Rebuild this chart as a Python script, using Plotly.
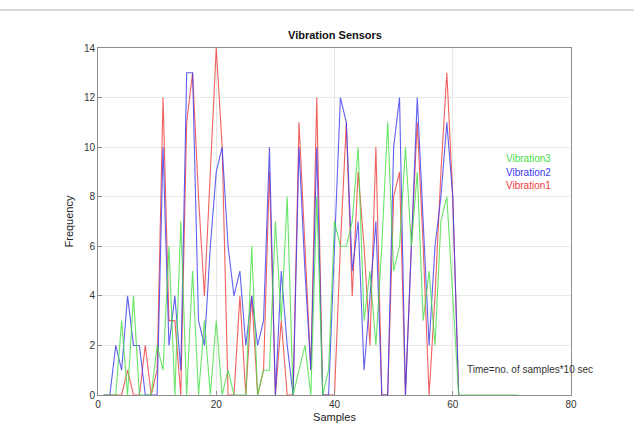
import plotly.graph_objects as go

samples_rb = list(range(1, 62))
samples_g = list(range(1, 72))

vibration1 = [0, 0, 0, 0, 1, 0, 0, 2, 0, 1,
              12, 3, 3, 0, 11, 13, 8, 4, 9, 14,
              10, 0, 0, 4, 0, 4, 0, 1, 9, 0,
              3, 0, 0, 11, 6, 1, 12, 0, 0, 0,
              6, 11, 4, 9, 6, 2, 10, 0, 0, 8,
              9, 0, 6, 11, 6, 0, 4, 9, 13, 8,
              0]
vibration2 = [0, 0, 2, 1, 4, 2, 2, 0, 0, 0,
              10, 2, 4, 1, 13, 13, 3, 2, 6, 9,
              10, 6, 4, 5, 2, 4, 2, 3, 10, 0,
              5, 2, 0, 10, 5, 1, 10, 0, 0, 6,
              12, 11, 5, 7, 1, 4, 7, 0, 0, 10,
              12, 0, 6, 12, 7, 2, 6, 8, 11, 8,
              0]
vibration3 = [0, 0, 0, 3, 0, 4, 0, 0, 0, 2,
              1, 6, 0, 7, 0, 5, 0, 3, 0, 3,
              0, 1, 0, 0, 0, 6, 0, 1, 1, 7,
              3, 8, 0, 1, 2, 0, 8, 0, 1, 7,
              6, 6, 7, 10, 3, 5, 2, 6, 11, 5,
              6, 10, 6, 9, 3, 5, 2, 7, 8, 4,
              0, 0, 0, 0, 0, 0, 0, 0, 0, 0, 0]

x_ticks = [0, 20, 40, 60, 80]
y_ticks = [0, 2, 4, 6, 8, 10, 12, 14]

RED = "#f03a3a"
BLUE = "#3a3af0"
GREEN = "#45e045"
FONT = "Liberation Sans, Arial, sans-serif"

fig = go.Figure()
fig.add_trace(go.Scatter(x=samples_rb, y=vibration1, mode="lines", name="Vibration1",
                         line=dict(color=RED, width=1.1), opacity=0.8))
fig.add_trace(go.Scatter(x=samples_rb, y=vibration2, mode="lines", name="Vibration2",
                         line=dict(color=BLUE, width=1.1), opacity=0.8))
fig.add_trace(go.Scatter(x=samples_g, y=vibration3, mode="lines", name="Vibration3",
                         line=dict(color=GREEN, width=1.1), opacity=0.8))

L, R, T, B = 98, 63, 48, 53
W, H = 634, 448
pw, ph = W - L - R, H - T - B

axis_common = dict(showgrid=True, gridcolor="#e8e8e8", gridwidth=1,
                   showline=True, linecolor="#8c8c8c", linewidth=1, mirror=True,
                   ticks="inside", ticklen=4, tickcolor="#8c8c8c",
                   zeroline=False, tickfont=dict(size=10, color="#333333", family=FONT))

fig.update_layout(
    width=W, height=H,
    margin=dict(l=L, r=R, t=T, b=B),
    paper_bgcolor="white", plot_bgcolor="white",
    showlegend=False,
    font=dict(family=FONT, color="#222222"),
    title=dict(text="<b>Vibration Sensors</b>", x=(335) / W, xanchor="center",
               y=1 - 35 / H, yanchor="middle", font=dict(size=11, color="#111111", family=FONT)),
    xaxis=dict(range=[0, 80], tickvals=x_ticks, title=dict(text="Samples", standoff=4,
               font=dict(size=11, color="#222222", family=FONT)), **axis_common),
    yaxis=dict(range=[0, 14], tickvals=y_ticks, title=dict(text="Frequency", standoff=8,
               font=dict(size=11, color="#222222", family=FONT)), **axis_common),
)

legend_items = [("Vibration3", GREEN, 158), ("Vibration2", BLUE, 172), ("Vibration1", RED, 185)]
for text, color, ypx in legend_items:
    fig.add_annotation(x=(528 - L) / pw, y=(H - B - ypx) / ph, xref="paper", yref="paper",
                       text=text, showarrow=False, xanchor="center", yanchor="middle",
                       font=dict(size=10, color=color, family=FONT))

fig.add_annotation(x=(465 - L) / pw, y=(H - B - 369) / ph, xref="paper", yref="paper",
                   text="Time=no. of samples*10 sec", showarrow=False,
                   xanchor="left", yanchor="middle",
                   font=dict(size=10, color="#333333", family=FONT))

# thin page border line near the top of the image
fig.add_shape(type="line", xref="paper", yref="paper",
              x0=-L / pw, x1=(W - L) / pw, y0=(H - B - 10) / ph, y1=(H - B - 10) / ph,
              line=dict(color="#b0b0b0", width=1))

fig.write_html("out.html")
